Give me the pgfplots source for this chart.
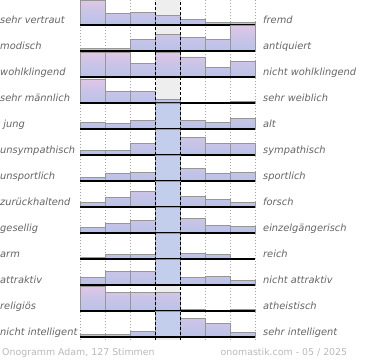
\documentclass[border=0pt]{standalone}
\usepackage{pgfplots}
\pgfplotsset{compat=1.18}
\usepackage{fontspec}
\setmainfont{DejaVu Sans}
\definecolor{shtop}{RGB}{224,198,230}
\definecolor{shmid}{RGB}{200,196,232}
\definecolor{shlow}{RGB}{188,194,232}
\definecolor{shbot}{RGB}{162,154,202}
\definecolor{midblue}{RGB}{194,206,236}
\definecolor{bggray}{RGB}{238,238,238}
\definecolor{barline}{RGB}{150,150,150}
\definecolor{labelgray}{RGB}{100,100,100}
\definecolor{footgray}{RGB}{185,185,185}
\pgfdeclareverticalshading{rowshade}{100bp}{color(0bp)=(shbot); color(25bp)=(shbot); color(29bp)=(shlow); color(50bp)=(shmid); color(75bp)=(shtop); color(100bp)=(shtop)}
\pgfplotsset{rowax/.style={x=25pt, y=1pt, xmin=0, xmax=7, ymin=0, ymax=26, hide axis, clip=false, anchor=south west}}
\newcommand{\barrow}[9]{%
\begin{axis}[rowax, at={(80pt,#1pt)}]
\addplot[draw=none, shade, shading=rowshade, const plot] coordinates {(0,#2)(1,#3)(2,#4)(3,#5)(4,#6)(5,#7)(6,#8)(7,#8)} \closedcycle;
\ifnum#9=1 \addplot[ybar interval, fill=midblue, draw=none] coordinates {(3,26)(4,26)};\fi
\addplot[ybar interval, draw=barline, fill=none, line width=0.7pt] coordinates {(0,#2)(1,#3)(2,#4)(3,#5)(4,#6)(5,#7)(6,#8)(7,#8)};
\addplot[black, line width=1.4pt] coordinates {(0,0)(7,0)};
\end{axis}}
\newcommand{\lab}[3]{%
\node[anchor=base west, inner sep=0pt, font=\fontsize{9.85}{11}\selectfont\itshape, text=labelgray] at (0pt,#1pt) {#2};
\node[anchor=base west, inner sep=0pt, font=\fontsize{9.85}{11}\selectfont\itshape, text=labelgray] at (263pt,#1pt) {#3};}
\begin{document}
\begin{tikzpicture}
\path[use as bounding box] (0pt,0pt) rectangle (370pt,360pt);
\fill[bggray] (155pt,20pt) rectangle (180pt,360pt);
\foreach \xx in {80,105,130,205,230,255} {\draw[gray!70, line width=0.6pt, dash pattern=on 1pt off 2pt] (\xx pt,20pt) -- (\xx pt,360pt);}
% y position, seven heights, blue middle flag
\barrow{335}{25}{11.7}{12.3}{9.3}{5.7}{2.3}{2.3}{0}
\barrow{309}{3}{3}{12}{16.7}{14}{12}{25.5}{0}
\barrow{283}{24.5}{24.5}{14}{24.5}{20}{10}{16}{0}
\barrow{257}{24}{12}{12}{3.7}{1}{0}{1.3}{0}
\barrow{231}{6.7}{5.7}{9}{26}{9}{6.7}{10.7}{1}
\barrow{205}{5}{4.3}{11.7}{26}{17.7}{11.7}{11.7}{1}
\barrow{179}{3.3}{7.7}{8.7}{26}{12.7}{7.7}{8.7}{1}
\barrow{153}{4.3}{9.7}{15.3}{26}{10.3}{7.7}{4.7}{1}
\barrow{127}{6}{10}{12.7}{26}{15}{7.7}{6.7}{1}
\barrow{101}{1.7}{4.3}{4.3}{26}{6}{4.3}{0}{1}
\barrow{75}{7.7}{13.7}{13.7}{26}{7.7}{8.7}{4.7}{1}
\barrow{49}{25}{19}{19}{19}{1.7}{1}{1.7}{0}
\barrow{23}{2.3}{2.3}{6}{26}{19}{13.3}{4.3}{1}
\foreach \xx in {155,180} {\draw[black, line width=0.9pt, dash pattern=on 3pt off 2pt] (\xx pt,20pt) -- (\xx pt,360pt);}
\lab{336.2}{sehr vertraut}{fremd}
\lab{310.2}{modisch}{antiquiert}
\lab{284.2}{wohlklingend}{nicht wohlklingend}
\lab{258.2}{sehr männlich}{sehr weiblich}
\lab{232.2}{\ jung}{alt}
\lab{206.2}{unsympathisch}{sympathisch}
\lab{180.2}{unsportlich}{sportlich}
\lab{154.2}{zurückhaltend}{forsch}
\lab{128.2}{gesellig}{einzelgängerisch}
\lab{102.2}{arm}{reich}
\lab{76.2}{attraktiv}{nicht attraktiv}
\lab{50.2}{religiös}{atheistisch}
\lab{24.2}{nicht intelligent}{sehr intelligent}
\node[anchor=base west, inner sep=0pt, font=\fontsize{9.4}{11}\selectfont, text=footgray] at (2pt,5pt) {Onogramm Adam, 127 Stimmen};
\node[anchor=base west, inner sep=0pt, font=\fontsize{9.4}{11}\selectfont, text=footgray] at (220.5pt,5pt) {onomastik.com - 05 / 2025};
\end{tikzpicture}
\end{document}
